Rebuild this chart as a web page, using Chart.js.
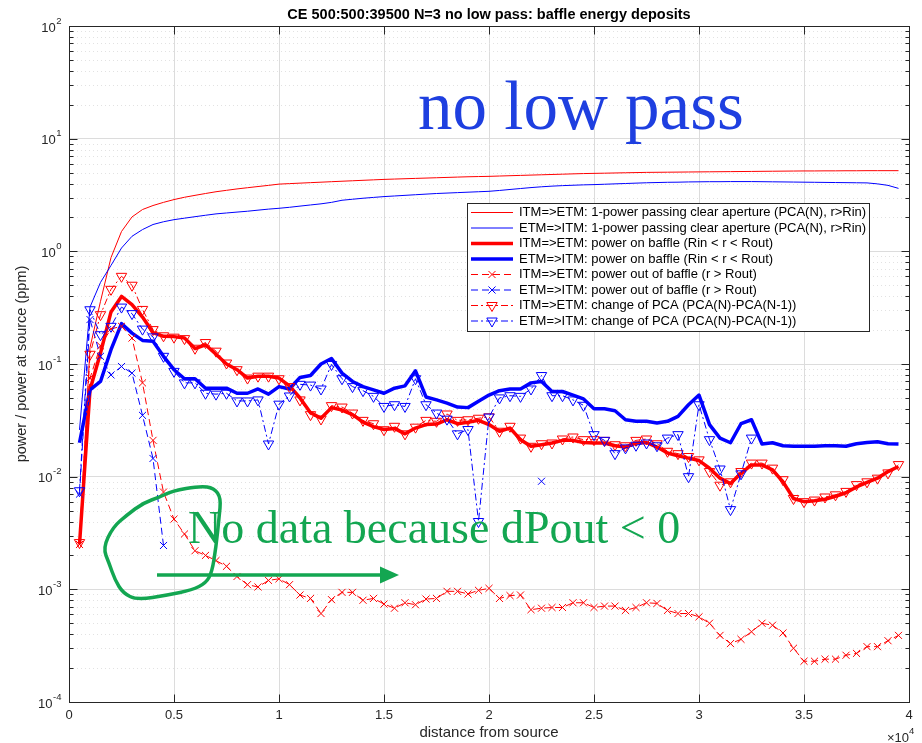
<!DOCTYPE html>
<html>
<head>
<meta charset="utf-8">
<title>baffle energy deposits</title>
<script src="https://cdn.jsdelivr.net/npm/chart.js@4.4.0/dist/chart.umd.min.js"></script>
<style>
  html, body { margin: 0; padding: 0; background: #fff; }
  canvas { display: block; }
</style>
</head>
<body>
<canvas id="baffleChart" width="922" height="743"></canvas>
<script>
// distance from source, 500:500:39500
const distance = [
  500, 1000, 1500, 2000, 2500, 3000, 3500, 4000, 4500, 5000,
  5500, 6000, 6500, 7000, 7500, 8000, 8500, 9000, 9500, 10000,
  10500, 11000, 11500, 12000, 12500, 13000, 13500, 14000, 14500, 15000,
  15500, 16000, 16500, 17000, 17500, 18000, 18500, 19000, 19500, 20000,
  20500, 21000, 21500, 22000, 22500, 23000, 23500, 24000, 24500, 25000,
  25500, 26000, 26500, 27000, 27500, 28000, 28500, 29000, 29500, 30000,
  30500, 31000, 31500, 32000, 32500, 33000, 33500, 34000, 34500, 35000,
  35500, 36000, 36500, 37000, 37500, 38000, 38500, 39000, 39500
];

// 1 - power passing clear aperture (ppm)
const pcaItmEtm = [
  0.0026, 0.14, 0.36, 0.88, 1.5, 2.02, 2.35, 2.55, 2.72, 2.88,
  3.02, 3.14, 3.26, 3.38, 3.48, 3.58, 3.67, 3.76, 3.85, 3.95,
  3.99, 4.03, 4.07, 4.11, 4.15, 4.19, 4.23, 4.27, 4.31, 4.35,
  4.38, 4.41, 4.44, 4.47, 4.5, 4.53, 4.56, 4.59, 4.61, 4.63,
  4.66, 4.69, 4.72, 4.75, 4.78, 4.81, 4.84, 4.87, 4.9, 4.92,
  4.94, 4.96, 4.98, 5.0, 5.02, 5.03, 5.04, 5.05, 5.06, 5.07,
  5.08, 5.09, 5.1, 5.11, 5.12, 5.13, 5.14, 5.15, 5.16, 5.17,
  5.17, 5.18, 5.18, 5.19, 5.19, 5.2, 5.2, 5.2, 5.2
];
const pcaEtmItm = [
  0.026, 0.32, 0.53, 0.75, 1.07, 1.36, 1.56, 1.73, 1.83, 1.91,
  1.97, 2.03, 2.09, 2.15, 2.19, 2.23, 2.27, 2.32, 2.37, 2.41,
  2.46, 2.52, 2.58, 2.64, 2.72, 2.84, 2.9, 2.96, 3.01, 3.06,
  3.1, 3.14, 3.18, 3.22, 3.26, 3.29, 3.32, 3.35, 3.38, 3.41,
  3.47, 3.54, 3.61, 3.68, 3.74, 3.79, 3.83, 3.86, 3.89, 3.91,
  3.94, 3.97, 4.0, 4.03, 4.06, 4.08, 4.1, 4.11, 4.13, 4.14,
  4.15, 4.15, 4.16, 4.16, 4.16, 4.15, 4.14, 4.13, 4.12, 4.11,
  4.1, 4.09, 4.08, 4.07, 4.06, 4.05, 3.97, 3.85, 3.62
];

// power on baffle, Rin < r < Rout
const baffleItmEtm = [
  0.0025, 0.059, 0.125, 0.29, 0.398, 0.336, 0.261, 0.19, 0.176, 0.175,
  0.17, 0.137, 0.148, 0.122, 0.1, 0.089, 0.075, 0.078, 0.078, 0.075,
  0.064, 0.05, 0.037, 0.033, 0.041, 0.039, 0.0355, 0.0305, 0.0278, 0.0262,
  0.0268, 0.024, 0.027, 0.029, 0.0293, 0.032, 0.0295, 0.0304, 0.0316, 0.029,
  0.0253, 0.027, 0.0213, 0.0186, 0.0192, 0.0199, 0.021, 0.021, 0.0201, 0.0199,
  0.0199, 0.0188, 0.0183, 0.0199, 0.0201, 0.0183, 0.0162, 0.0153, 0.0146, 0.0139,
  0.0119, 0.0097, 0.0087, 0.0107, 0.0127, 0.0127, 0.0115, 0.009, 0.0064, 0.006,
  0.0061, 0.0063, 0.0067, 0.0072, 0.0081, 0.0089, 0.0097, 0.0111, 0.0123
];
const baffleEtmItm = [
  0.02, 0.059, 0.07, 0.134, 0.228, 0.188, 0.162, 0.159, 0.117, 0.089,
  0.074, 0.074, 0.061, 0.061, 0.061, 0.055, 0.055, 0.06, 0.054, 0.063,
  0.06, 0.076, 0.079, 0.1, 0.112, 0.083, 0.07, 0.063, 0.059, 0.055,
  0.061, 0.064, 0.087, 0.051, 0.048, 0.045, 0.0415, 0.041, 0.0466, 0.053,
  0.058, 0.06, 0.06, 0.068, 0.07, 0.057, 0.057, 0.053, 0.049, 0.04,
  0.04, 0.0385, 0.032, 0.031, 0.031, 0.03, 0.031, 0.0343, 0.0435, 0.053,
  0.029, 0.022, 0.02, 0.0295, 0.032, 0.0195, 0.02, 0.0188, 0.0186, 0.0186,
  0.0186, 0.0188, 0.0188, 0.0186, 0.0196, 0.0201, 0.0204, 0.0196, 0.0195
];

// power out of baffle, r > Rout (null where dPout < 0)
const outItmEtm = [
  0.0025, 0.075, 0.145, 0.205, 0.216, 0.17, 0.068, 0.021, 0.0073, 0.0042,
  0.0031, 0.0022, 0.002, 0.0018, 0.0016, 0.0013, 0.0011, 0.00105, 0.0012, 0.00124,
  0.0011, 0.00089, 0.00083, 0.00061, 0.00081, 0.00094, 0.00094, 0.0008, 0.00083, 0.00074,
  0.00068, 0.00076, 0.00073, 0.00082, 0.00083, 0.00096, 0.00096, 0.00091, 0.00098, 0.00102,
  0.00083, 0.00088, 0.00089, 0.00066, 0.00068, 0.00069, 0.00069, 0.00076, 0.00076, 0.00069,
  0.00071, 0.00071, 0.00065, 0.00069, 0.00076, 0.00075, 0.00065, 0.00061, 0.00061, 0.00057,
  0.0005, 0.00039, 0.00033, 0.00036, 0.00042, 0.0005, 0.00048, 0.00041, 0.0003, 0.00023,
  0.00023, 0.00024, 0.00024, 0.00026, 0.00027, 0.00031, 0.00031, 0.00035, 0.00039
];
const outEtmItm = [
  0.007, 0.248, 0.117, 0.08, 0.095, 0.083, 0.035, 0.0145, 0.00245, null,
  null, null, null, null, null, null, null, null, null, null,
  null, null, null, null, null, null, null, null, null, null,
  null, null, null, null, null, null, null, null, null, null,
  null, null, null, null, 0.0091, null, null, null, null, null,
  null, null, null, null, null, null, null, null, null, null,
  null, null, null, null, null, null, null, null, null, null,
  null, null, null, null, null, null, null, null, null
];

// change of PCA, PCA(N) - PCA(N-1)
const dPcaItmEtm = [
  0.0026, 0.122, 0.274, 0.46, 0.6, 0.5, 0.305, 0.202, 0.178, 0.173,
  0.168, 0.138, 0.155, 0.13, 0.102, 0.089, 0.075, 0.078, 0.078, 0.074,
  0.063, 0.048, 0.0355, 0.0325, 0.0427, 0.0415, 0.0367, 0.0316, 0.0295, 0.0261,
  0.028, 0.024, 0.0275, 0.0316, 0.031, 0.036, 0.0316, 0.032, 0.033, 0.034,
  0.0253, 0.028, 0.022, 0.0186, 0.0196, 0.0199, 0.0216, 0.0225, 0.0213, 0.0213,
  0.021, 0.0192, 0.0188, 0.021, 0.0216, 0.0196, 0.0168, 0.016, 0.0151, 0.0141,
  0.0111, 0.0084, 0.009, 0.0111, 0.0132, 0.0132, 0.0119, 0.0094, 0.0064, 0.006,
  0.0062, 0.0066, 0.0069, 0.0074, 0.0085, 0.009, 0.0097, 0.0108, 0.0128
];
const dPcaEtmItm = [
  0.0075, 0.303, 0.182, 0.216, 0.32, 0.28, 0.204, 0.174, 0.117, 0.086,
  0.068, 0.068, 0.055, 0.054, 0.055, 0.047, 0.047, 0.048, 0.0195, 0.044,
  0.052, 0.066, 0.065, 0.06, 0.099, 0.074, 0.063, 0.058, 0.0516, 0.042,
  0.0435, 0.042, 0.074, 0.0435, 0.0367, 0.0324, 0.024, 0.0262, 0.004, 0.0338,
  0.05, 0.0523, 0.0516, 0.06, 0.079, 0.0523, 0.0523, 0.048, 0.043, 0.0236,
  0.021, 0.016, 0.018, 0.019, 0.0199, 0.0188, 0.022, 0.0236, 0.01, 0.0435,
  0.0213, 0.0117, 0.0051, 0.0106, 0.022, null, null, null, null, null,
  null, null, null, null, null, null, null, null, null
];

const seriesLabels = [
  'ITM=>ETM: 1-power passing clear aperture (PCA(N), r>Rin)',
  'ETM=>ITM: 1-power passing clear aperture (PCA(N), r>Rin)',
  'ITM=>ETM: power on baffle (Rin < r < Rout)',
  'ETM=>ITM: power on baffle (Rin < r < Rout)',
  'ITM=>ETM: power out of baffle (r > Rout)',
  'ETM=>ITM: power out of baffle (r > Rout)',
  'ITM=>ETM: change of PCA (PCA(N)-PCA(N-1))',
  'ETM=>ITM: change of PCA (PCA(N)-PCA(N-1))'
];
const yDecades = [1e-4, 1e-3, 1e-2, 1e-1, 1, 10, 100];

const SANS = '"Liberation Sans", Arial, Helvetica, sans-serif';
const SERIF = '"Liberation Serif", "Times New Roman", serif';
const INK = '#262626';
const RED = '#ff0000';
const BLUE = '#0000ff';
const DASH = [7, 4];
const DASHDOT = [7, 3, 2, 3];

const points = (vals) => distance.map((x, i) => ({ x, y: vals[i] }));

function series(label, vals, color, extra) {
  return Object.assign({
    label,
    data: points(vals),
    borderColor: color,
    backgroundColor: color,
    borderWidth: 1,
    pointRadius: 0,
    tension: 0,
    spanGaps: false
  }, extra);
}

const crossMarks = {
  borderDash: DASH, pointStyle: 'crossRot', pointRadius: 5,
  pointBorderWidth: 1, pointBackgroundColor: 'rgba(0,0,0,0)'
};
const triMarks = {
  borderDash: DASHDOT, pointStyle: 'triangle', pointRotation: 180, pointRadius: 6,
  pointBorderWidth: 1, pointBackgroundColor: 'rgba(0,0,0,0)'
};

const datasets = [
  series(seriesLabels[0], pcaItmEtm, RED, { order: 8 }),
  series(seriesLabels[1], pcaEtmItm, BLUE, { order: 7 }),
  series(seriesLabels[2], baffleItmEtm, RED, { order: 6, borderWidth: 3.5, borderJoinStyle: 'round' }),
  series(seriesLabels[3], baffleEtmItm, BLUE, { order: 5, borderWidth: 3.5, borderJoinStyle: 'round' }),
  series(seriesLabels[4], outItmEtm, RED, Object.assign({ order: 4, pointBorderColor: RED }, crossMarks)),
  series(seriesLabels[5], outEtmItm, BLUE, Object.assign({ order: 3, pointBorderColor: BLUE }, crossMarks)),
  series(seriesLabels[6], dPcaItmEtm, RED, Object.assign({ order: 2, pointBorderColor: RED }, triMarks)),
  series(seriesLabels[7], dPcaEtmItm, BLUE, Object.assign({ order: 1, pointBorderColor: BLUE }, triMarks))
];

function strokeLine(ctx, x1, y1, x2, y2) {
  ctx.beginPath();
  ctx.moveTo(x1, y1);
  ctx.lineTo(x2, y2);
  ctx.stroke();
}

function drawMarker(ctx, style, x, y, r, color) {
  ctx.save();
  ctx.setLineDash([]);
  ctx.strokeStyle = color;
  ctx.lineWidth = 1;
  ctx.beginPath();
  if (style === 'crossRot') {
    const d = r * Math.SQRT1_2;
    ctx.moveTo(x - d, y - d); ctx.lineTo(x + d, y + d);
    ctx.moveTo(x + d, y - d); ctx.lineTo(x - d, y + d);
  } else {
    const s = r * Math.sin(Math.PI / 3);
    ctx.moveTo(x, y + r);
    ctx.lineTo(x - s, y - r / 2);
    ctx.lineTo(x + s, y - r / 2);
    ctx.closePath();
  }
  ctx.stroke();
  ctx.restore();
}

// "10" with a raised exponent
function powerLabel(ctx, exp, right, cy, base, small) {
  ctx.font = small + 'px ' + SANS;
  const we = ctx.measureText(exp).width;
  ctx.font = base + 'px ' + SANS;
  const wb = ctx.measureText('10').width;
  const x0 = right - we - wb;
  ctx.textAlign = 'left';
  ctx.textBaseline = 'middle';
  ctx.fillText('10', x0, cy + 2);
  ctx.font = small + 'px ' + SANS;
  ctx.fillText(exp, x0 + wb + 0.5, cy - 5);
}

const matlabFrame = {
  id: 'matlabFrame',
  beforeDatasetsDraw(chart) {
    const { ctx, chartArea: a, scales: { y } } = chart;
    ctx.save();
    ctx.strokeStyle = '#e2e2e2';
    ctx.lineWidth = 1;
    ctx.setLineDash([1, 3]);
    for (let e = -4; e < 2; e++) {
      for (let m = 2; m <= 9; m++) {
        const py = Math.round(y.getPixelForValue(m * Math.pow(10, e))) + 0.5;
        strokeLine(ctx, a.left, py, a.right, py);
      }
    }
    ctx.restore();
  },
  afterDraw(chart) {
    const { ctx, chartArea: a, scales: { x, y } } = chart;
    ctx.save();

    // axes box and inward ticks
    ctx.strokeStyle = INK;
    ctx.lineWidth = 1;
    ctx.setLineDash([]);
    const L = Math.round(a.left) + 0.5, R = Math.round(a.right) + 0.5;
    const T = Math.round(a.top) + 0.5, B = Math.round(a.bottom) + 0.5;
    ctx.strokeRect(L, T, R - L, B - T);
    for (let v = 0; v <= 40000; v += 5000) {
      const px = Math.round(x.getPixelForValue(v)) + 0.5;
      strokeLine(ctx, px, B, px, B - 8);
      strokeLine(ctx, px, T, px, T + 8);
    }
    for (let e = -4; e <= 2; e++) {
      const py = Math.round(y.getPixelForValue(Math.pow(10, e))) + 0.5;
      strokeLine(ctx, L, py, L + 8, py);
      strokeLine(ctx, R, py, R - 8, py);
      if (e === 2) break;
      for (let m = 2; m <= 9; m++) {
        const pm = Math.round(y.getPixelForValue(m * Math.pow(10, e))) + 0.5;
        strokeLine(ctx, L, pm, L + 4, pm);
        strokeLine(ctx, R, pm, R - 4, pm);
      }
    }

    // y tick labels
    ctx.fillStyle = INK;
    yDecades.forEach((v) => {
      powerLabel(ctx, String(Math.round(Math.log10(v))), a.left - 8, y.getPixelForValue(v), 13, 9.5);
    });

    // x exponent marker
    ctx.font = '13px ' + SANS;
    ctx.textAlign = 'left';
    ctx.textBaseline = 'middle';
    ctx.fillText('\u00d710', 887, 738);
    ctx.font = '9.5px ' + SANS;
    ctx.fillText('4', 909, 731);

    // axis labels and title
    ctx.font = '15px ' + SANS;
    ctx.textAlign = 'center';
    ctx.fillText('distance from source', (a.left + a.right) / 2, 733);
    ctx.save();
    ctx.translate(22, (a.top + a.bottom) / 2);
    ctx.rotate(-Math.PI / 2);
    ctx.font = '14.5px ' + SANS;
    ctx.fillText('power / power at source (ppm)', 0, 0);
    ctx.restore();
    ctx.font = 'bold 14.5px ' + SANS;
    ctx.fillStyle = '#000';
    ctx.fillText('CE 500:500:39500 N=3 no low pass: baffle energy deposits', (a.left + a.right) / 2, 15);

    // legend
    const lx = 467.5, ly = 203.5, lw = 402, lh = 128;
    ctx.fillStyle = '#fff';
    ctx.fillRect(lx, ly, lw, lh);
    ctx.strokeStyle = INK;
    ctx.strokeRect(lx, ly, lw, lh);
    ctx.font = '13px ' + SANS;
    ctx.textAlign = 'left';
    ctx.textBaseline = 'middle';
    chart.data.datasets.forEach((ds, i) => {
      const ry = 212.5 + 15.5 * i;
      ctx.save();
      ctx.strokeStyle = ds.borderColor;
      ctx.lineWidth = ds.borderWidth;
      ctx.setLineDash(ds.borderDash || []);
      strokeLine(ctx, 471, ry, 513, ry);
      ctx.restore();
      if (ds.pointRadius > 0) drawMarker(ctx, ds.pointStyle, 492, ry, ds.pointRadius, ds.borderColor);
      ctx.fillStyle = '#000';
      ctx.fillText(ds.label, 519, ry);
    });

    // notes written over the plot
    ctx.fillStyle = '#1e3fe0';
    ctx.font = '69px ' + SERIF;
    ctx.textAlign = 'center';
    ctx.textBaseline = 'alphabetic';
    ctx.fillText('no low pass', 581, 129);

    const GREEN = '#13a651';
    ctx.fillStyle = GREEN;
    ctx.font = '46px ' + SERIF;
    ctx.textAlign = 'left';
    ctx.fillText('No data because dPout < 0', 188, 543);

    ctx.strokeStyle = GREEN;
    ctx.lineWidth = 3.5;
    ctx.lineJoin = 'round';
    ctx.lineCap = 'round';
    const loop = [
      [103, 548], [113, 527], [127, 515], [143, 503], [160, 497], [172, 491],
      [200, 486], [214, 488], [221, 498], [219, 518], [216, 547], [212, 572],
      [206, 583], [192, 590], [168, 595], [137, 600], [123, 593], [115, 580], [109, 563]
    ];
    ctx.beginPath();
    const mid = (p, q) => [(p[0] + q[0]) / 2, (p[1] + q[1]) / 2];
    const start = mid(loop[loop.length - 1], loop[0]);
    ctx.moveTo(start[0], start[1]);
    loop.forEach((p, i) => {
      const m = mid(p, loop[(i + 1) % loop.length]);
      ctx.quadraticCurveTo(p[0], p[1], m[0], m[1]);
    });
    ctx.closePath();
    ctx.stroke();

    ctx.lineCap = 'butt';
    strokeLine(ctx, 157, 575, 382, 575);
    ctx.beginPath();
    ctx.moveTo(380, 566.5);
    ctx.lineTo(399, 575);
    ctx.lineTo(380, 583.5);
    ctx.closePath();
    ctx.fill();

    ctx.restore();
  }
};

new Chart(document.getElementById('baffleChart'), {
  type: 'line',
  data: { datasets },
  options: {
    responsive: false,
    animation: false,
    devicePixelRatio: 1,
    layout: { padding: { top: 26, right: 13, left: 0, bottom: 0 } },
    plugins: { legend: { display: false }, tooltip: { enabled: false } },
    scales: {
      x: {
        type: 'linear',
        min: 0,
        max: 40000,
        afterFit: (s) => { s.height = 41; },
        border: { display: false },
        grid: { color: '#dcdcdc', lineWidth: 1, drawTicks: false },
        ticks: {
          stepSize: 5000,
          autoSkip: false,
          maxRotation: 0,
          padding: 6,
          color: INK,
          font: { family: SANS, size: 13 },
          callback: (v) => String(v / 1e4)
        }
      },
      y: {
        type: 'logarithmic',
        min: 1e-4,
        max: 100,
        afterFit: (s) => { s.width = 69; },
        afterBuildTicks: (s) => { s.ticks = yDecades.map((v) => ({ value: v })); },
        border: { display: false },
        grid: { color: '#dcdcdc', lineWidth: 1, drawTicks: false },
        ticks: { display: false }
      }
    }
  },
  plugins: [matlabFrame]
});
</script>
</body>
</html>
